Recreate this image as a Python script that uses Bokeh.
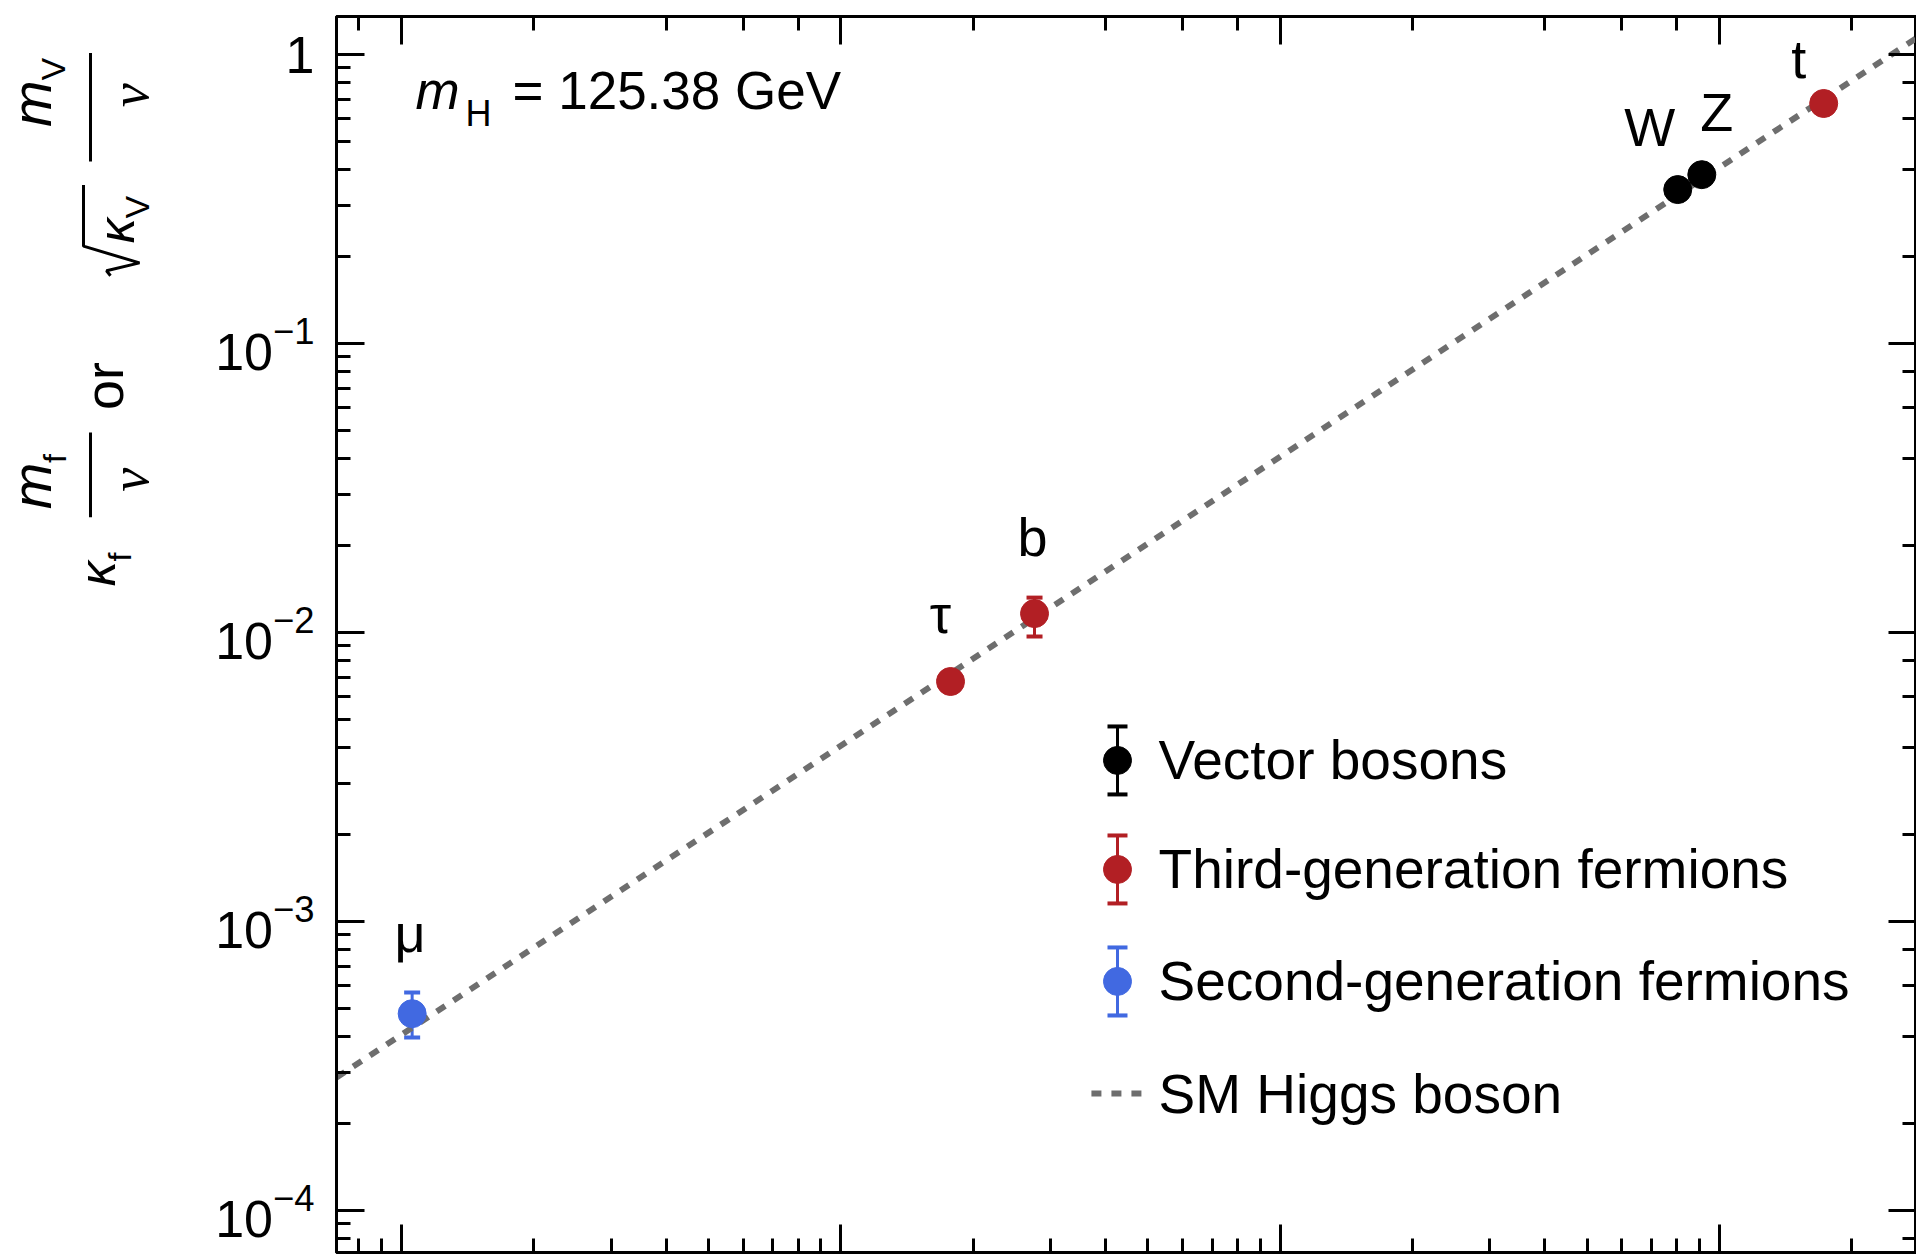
import math
from bokeh.plotting import figure
from bokeh.models import (Range1d, LinearScale, LogAxis, LogTickFormatter,
                          ColumnDataSource, Whisker, TeeHead)
from bokeh.layouts import row
from bokeh.embed import file_html
from bokeh.resources import INLINE
from bokeh.core.properties import value

# ---------------- data ----------------
vector_names = ["W", "Z"]
vector_mass = [80.38, 91.19]
vector_coupling = [0.341, 0.384]
vector_err_lo = [0.009, 0.009]
vector_err_hi = [0.009, 0.009]

third_names = ["τ", "b", "t"]
third_mass = [1.777, 2.76, 172.76]
third_coupling = [6.77e-3, 1.163e-2, 0.677]
third_err_lo = [0.45e-3, 1.94e-3, 0.045]
third_err_hi = [0.45e-3, 1.58e-3, 0.045]

second_names = ["μ"]
second_mass = [0.1057]
second_coupling = [4.80e-4]
second_err_lo = [0.83e-4]
second_err_hi = [0.88e-4]

sm_mass = [0.0711, 281.0]
sm_coupling = [2.888e-4, 1.141]

legend_labels = ["Vector bosons", "Third-generation fermions",
                 "Second-generation fermions", "SM Higgs boson"]
mh_text = "= 125.38 GeV"

# ---------------- style ----------------
W_TOTAL, H = 1916, 1254
LW = 180
FONT = "Liberation Sans"
SERIF = "Liberation Serif"
BLACK = "#000000"
RED = "#b21f24"
BLUE = "#4169e1"
GRAY = "#6e6e6e"
MS = 28

# label offsets (px) relative to each point (text centre)
vector_dx, vector_dy = [-28, 15], [-63, -63]
third_dx, third_dy = [-10, -2, -25], [-68, -77, -44]
second_dx, second_dy = [-2], [-81]

p = figure(width=W_TOTAL - LW, height=H, x_axis_type="log", y_axis_type="log",
           x_range=Range1d(0.0711, 281.0), y_range=Range1d(7.16e-5, 1.354),
           output_backend="svg", toolbar_location=None,
           min_border_left=336 - LW, min_border_right=0, min_border_top=16,
           min_border_bottom=2)
p.grid.visible = False
p.outline_line_color = BLACK
p.outline_line_width = 3
p.background_fill_color = "white"

p.extra_x_ranges = {"fx": Range1d(0, 1)}
p.extra_y_ranges = {"fy": Range1d(0, 1)}
p.extra_x_scales = {"fx": LinearScale()}
p.extra_y_scales = {"fy": LinearScale()}


def style_axis(ax, labels=False):
    ax.axis_line_width = 3
    ax.axis_line_color = BLACK
    ax.major_tick_in = 28
    ax.major_tick_out = 0
    ax.minor_tick_in = 14
    ax.minor_tick_out = 0
    ax.major_tick_line_width = 3
    ax.minor_tick_line_width = 3
    if labels:
        ax.major_label_text_font = FONT
        ax.major_label_text_font_size = "52px"
        ax.major_label_text_color = BLACK
        ax.major_label_standoff = 22
    else:
        ax.major_label_text_font_size = "0px"
        ax.major_label_standoff = 0
        ax.major_label_text_alpha = 0


style_axis(p.xaxis[0])
yax = p.yaxis[0]
yax.formatter = LogTickFormatter(min_exponent=1)
style_axis(yax, labels=True)

top = LogAxis()
style_axis(top)
p.add_layout(top, "above")
right = LogAxis()
style_axis(right)
p.add_layout(right, "right")

# SM line
p.line(sm_mass, sm_coupling, line_color=GRAY, line_width=6, line_dash="10 10")

groups = [
    (vector_names, vector_mass, vector_coupling, vector_err_lo, vector_err_hi, vector_dx, vector_dy, BLACK),
    (third_names, third_mass, third_coupling, third_err_lo, third_err_hi, third_dx, third_dy, RED),
    (second_names, second_mass, second_coupling, second_err_lo, second_err_hi, second_dx, second_dy, BLUE),
]
for names, mass, coup, elo, ehi, dx, dy, col in groups:
    src = ColumnDataSource(dict(
        mass=mass, coup=coup, names=names, dx=dx, dy=dy,
        lower=[c - e for c, e in zip(coup, elo)],
        upper=[c + e for c, e in zip(coup, ehi)]))
    wh = Whisker(base="mass", lower="lower", upper="upper", source=src,
                 line_color=col, line_width=3, level="underlay",
                 upper_head=TeeHead(size=16, line_width=4, line_color=col),
                 lower_head=TeeHead(size=16, line_width=4, line_color=col))
    p.add_layout(wh)
    p.scatter("mass", "coup", source=src, size=MS, fill_color=col, line_color=col,
              marker="circle")
    p.text("mass", "coup", text="names", source=src, x_offset="dx", y_offset="dy",
           text_font=value(FONT), text_font_size="54px", text_color=BLACK,
           text_align="center", text_baseline="middle")

# m_H annotation
fx0, fy0 = 0.05, 0.9402
p.text([fx0], [fy0], text=["m"], x_range_name="fx", y_range_name="fy",
       text_font=value(FONT), text_font_style="italic", text_font_size="53px",
       text_align="left", text_baseline="middle")
p.text([fx0], [fy0], text=["H"], x_range_name="fx", y_range_name="fy", x_offset=50, y_offset=23,
       text_font=value(FONT), text_font_size="36px",
       text_align="left", text_baseline="middle")
p.text([fx0], [fy0], text=[mh_text], x_range_name="fx", y_range_name="fy", x_offset=97,
       text_font=value(FONT), text_font_size="53px",
       text_align="left", text_baseline="middle")

# legend
leg_mx, leg_tx = 0.4943, 0.5203
leg_rows = [0.3981, 0.3099, 0.2193, 0.1286]
leg_half = 0.0275
leg_cols = [BLACK, RED, BLUE]
for i, col in enumerate(leg_cols):
    lsrc = ColumnDataSource(dict(x=[leg_mx], y=[leg_rows[i]],
                                 lo=[leg_rows[i] - leg_half], hi=[leg_rows[i] + leg_half]))
    p.add_layout(Whisker(base="x", lower="lo", upper="hi", source=lsrc,
                         x_range_name="fx", y_range_name="fy",
                         line_color=col, line_width=3, level="underlay",
                         upper_head=TeeHead(size=20, line_width=4, line_color=col),
                         lower_head=TeeHead(size=20, line_width=4, line_color=col)))
    p.scatter([leg_mx], [leg_rows[i]], x_range_name="fx", y_range_name="fy",
              size=MS, fill_color=col, line_color=col)
p.line([0.4778, 0.5108], [leg_rows[3], leg_rows[3]], x_range_name="fx", y_range_name="fy",
       line_color=GRAY, line_width=6, line_dash="10 10")
p.text([leg_tx] * 4, leg_rows, text=legend_labels, x_range_name="fx", y_range_name="fy",
       text_font=value(FONT), text_font_size="55px", text_align="left",
       text_baseline="middle", text_color=BLACK)

# ---------------- y-axis label panel ----------------
lab = figure(width=LW, height=H, x_range=Range1d(0, LW), y_range=Range1d(H, 0),
             output_backend="svg", toolbar_location=None, min_border=0,
             x_axis_location=None, y_axis_location=None)
lab.grid.visible = False
lab.outline_line_color = None
A = math.pi / 2


def rtext(base_x, y, t, size, style="normal", font=FONT, align="left"):
    # base_x is the baseline position; shift to the text middle for rendering
    k = 0.3375 if font == SERIF else 0.3465
    lab.text([base_x - k * size], [y], text=[t], angle=A, text_font=value(font),
             text_font_style=style, text_font_size=f"{size}px", text_align=align,
             text_baseline="middle", text_color=BLACK)


# lower group: kappa_f m_f / v
rtext(115, 578, "κ", 50, "italic")
rtext(131, 553, "f", 32)
rtext(50, 500, "m", 56, "italic")
rtext(66, 453, "f", 32)
rtext(148, 470, "v", 54, "italic", font=SERIF, align="center")
lab.segment([90], [422], [90], [508], line_width=3, line_color=BLACK)
rtext(122, 375, "or", 54, align="center")

# upper group: sqrt(kappa_V) m_V / v
lab.line([110, 106, 139, 83, 83], [263, 258, 250, 233, 171], line_width=3, line_color=BLACK)
rtext(134, 230, "κ", 50, "italic")
rtext(148, 205, "V", 34)
rtext(50, 112, "m", 56, "italic")
rtext(64, 65, "V", 34)
rtext(148, 80, "v", 54, "italic", font=SERIF, align="center")
lab.segment([90], [37], [90], [147], line_width=3, line_color=BLACK)

layout = row(lab, p)
open("out.html", "w").write(file_html(layout, INLINE))
